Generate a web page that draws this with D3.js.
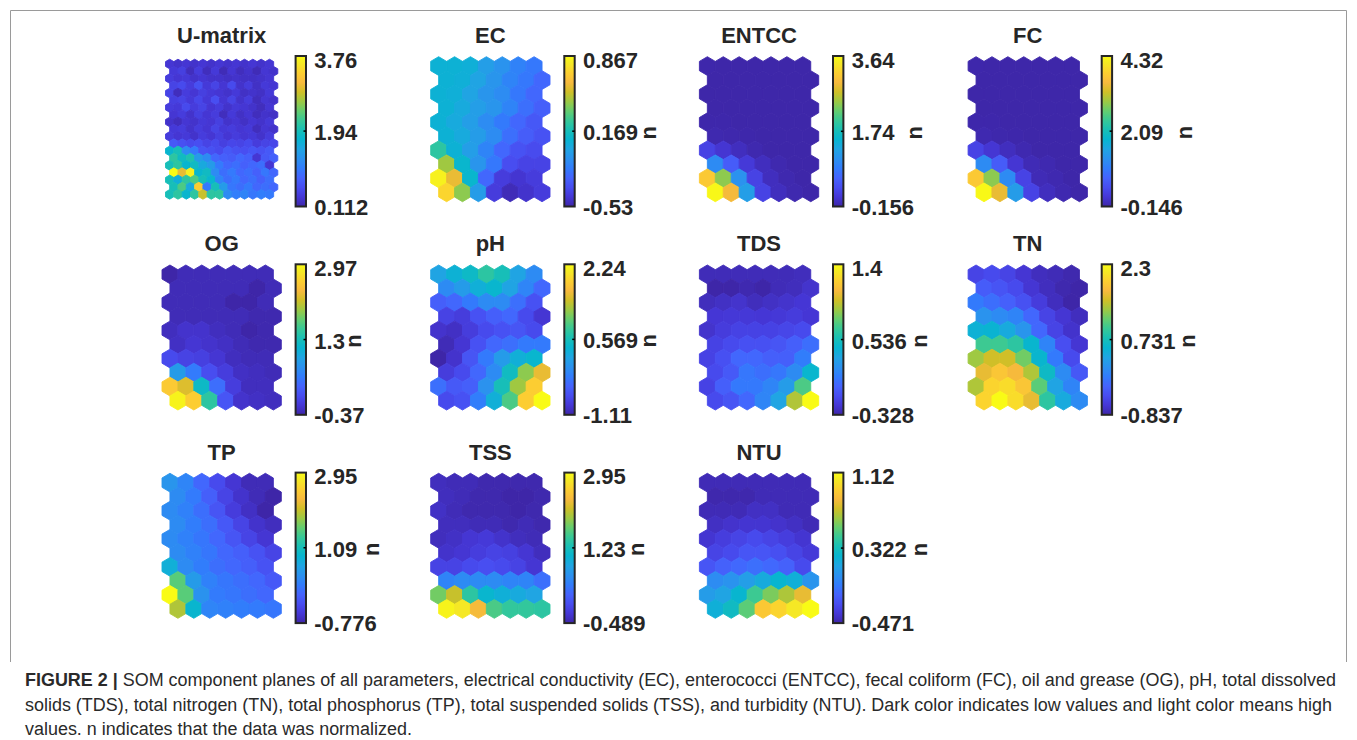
<!DOCTYPE html>
<html><head><meta charset="utf-8">
<script src="https://cdn.jsdelivr.net/npm/d3@7"></script>
<style>body{margin:0;background:#fff}svg{display:block}</style>
</head><body>
<svg id="c" width="1357" height="740"></svg>
<script>
// ---------------- DATA ----------------
const panelNames = ["U-matrix","EC","ENTCC","FC","OG","pH","TDS","TN","TP","TSS","NTU"];
const cbarMax = [3.76, 0.867, 3.64, 4.32, 2.97, 2.24, 1.4, 2.3, 2.95, 2.95, 1.12];
const cbarMid = [1.94, 0.169, 1.74, 2.09, 1.3, 0.569, 0.536, 0.731, 1.09, 1.23, 0.322];
const cbarMin = [0.112, -0.53, -0.156, -0.146, -0.37, -1.11, -0.328, -0.837, -0.776, -0.489, -0.471];
const normLabel = [false, true, true, true, true, true, true, true, true, true, true];

const umatrix = [
 [0.33,0.29,0.33,0.29,0.33,0.29,0.33,0.29,0.33,0.29,0.33,0.29,0.33],
 [0.37,0.44,0.22,0.40,0.22,0.37,0.19,0.33,0.22,0.29,0.19,0.33,0.29],
 [0.40,0.33,0.37,0.29,0.33,0.29,0.29,0.26,0.29,0.26,0.26,0.29,0.33],
 [0.48,0.55,0.40,0.62,0.37,0.48,0.33,0.55,0.29,0.40,0.26,0.37,0.33],
 [0.48,0.22,0.40,0.33,0.44,0.37,0.33,0.29,0.37,0.26,0.29,0.26,0.37],
 [0.44,0.48,0.37,0.51,0.37,0.59,0.33,0.48,0.29,0.40,0.22,0.33,0.29],
 [0.40,0.37,0.55,0.40,0.48,0.33,0.40,0.29,0.37,0.33,0.29,0.22,0.33],
 [0.33,0.40,0.29,0.44,0.33,0.40,0.22,0.37,0.26,0.33,0.22,0.29,0.26],
 [0.29,0.22,0.33,0.29,0.37,0.33,0.44,0.29,0.33,0.26,0.33,0.29,0.37],
 [0.37,0.40,0.29,0.40,0.33,0.48,0.37,0.40,0.33,0.37,0.22,0.33,0.29],
 [0.40,0.33,0.37,0.29,0.40,0.33,0.44,0.33,0.40,0.33,0.37,0.29,0.40],
 [0.70,0.62,0.55,0.59,0.48,0.55,0.44,0.51,0.48,0.55,0.40,0.48,0.51],
 [1.75,1.94,1.21,1.02,0.66,0.62,0.55,0.70,0.62,0.59,0.66,0.62,0.70],
 [2.12,1.86,2.01,1.39,1.21,0.84,0.77,0.73,0.84,0.77,0.33,0.70,0.77],
 [1.94,2.12,1.75,1.86,1.57,1.39,1.02,0.84,0.91,0.77,0.84,0.91,0.33],
 [3.76,3.03,3.65,1.75,1.86,1.21,0.91,1.02,0.84,0.91,0.77,0.99,0.84],
 [1.94,1.64,2.12,2.30,1.94,1.75,1.13,0.91,1.02,0.84,0.91,0.77,0.91],
 [1.94,2.30,1.57,3.32,1.02,1.94,1.39,0.99,0.91,1.02,0.84,0.91,0.84],
 [1.94,2.12,1.75,2.12,2.85,2.12,2.12,1.21,1.06,1.13,0.99,1.06,1.02]
];
const ec = [
 [0.07,0.07,0.06,-0.03,-0.08,-0.15,-0.19],
 [0.07,0.06,0.00,-0.07,-0.14,-0.19,-0.25],
 [0.07,0.06,0.00,-0.07,-0.11,-0.19,-0.25],
 [0.07,0.03,-0.03,-0.07,-0.14,-0.22,-0.28],
 [0.07,0.03,-0.03,-0.11,-0.18,-0.25,-0.31],
 [0.07,0.03,-0.04,-0.11,-0.22,-0.29,-0.33],
 [0.24,0.07,-0.03,-0.14,-0.25,-0.33,-0.36],
 [0.45,0.10,-0.07,-0.19,-0.35,-0.39,-0.39],
 [0.83,0.59,0.10,-0.25,-0.42,-0.45,-0.42],
 [0.73,0.42,-0.04,-0.42,-0.50,-0.46,-0.42]
];
const entcc = [
 [-0.14,-0.15,-0.15,-0.15,-0.15,-0.15,-0.15],
 [-0.15,-0.15,-0.15,-0.15,-0.15,-0.15,-0.15],
 [-0.15,-0.15,-0.15,-0.15,-0.15,-0.15,-0.15],
 [-0.15,-0.15,-0.15,-0.15,-0.15,-0.15,-0.15],
 [-0.14,-0.14,-0.15,-0.15,-0.15,-0.15,-0.15],
 [-0.12,-0.13,-0.14,-0.15,-0.15,-0.15,-0.15],
 [0.22,0.07,-0.04,-0.12,-0.15,-0.15,-0.15],
 [0.98,0.49,0.11,-0.04,-0.12,-0.15,-0.15],
 [3.15,2.43,1.06,0.22,-0.04,-0.12,-0.15],
 [3.60,2.96,1.21,0.22,-0.04,-0.12,-0.15]
];
const fc = [
 [-0.13,-0.14,-0.14,-0.14,-0.14,-0.14,-0.14],
 [-0.14,-0.14,-0.14,-0.14,-0.14,-0.14,-0.14],
 [-0.14,-0.14,-0.14,-0.14,-0.14,-0.14,-0.14],
 [-0.14,-0.14,-0.14,-0.14,-0.14,-0.14,-0.14],
 [-0.13,-0.13,-0.14,-0.14,-0.14,-0.14,-0.14],
 [-0.10,-0.12,-0.13,-0.14,-0.14,-0.14,-0.14],
 [0.30,0.12,-0.01,-0.10,-0.14,-0.14,-0.14],
 [1.19,0.61,0.12,-0.06,-0.10,-0.14,-0.14],
 [3.74,2.89,1.19,0.30,-0.06,-0.10,-0.14],
 [4.28,3.43,1.42,0.30,-0.01,-0.10,-0.14]
];
const og = [
 [-0.37,-0.30,-0.30,-0.30,-0.30,-0.30,-0.30],
 [-0.30,-0.30,-0.30,-0.30,-0.30,-0.37,-0.30],
 [-0.30,-0.30,-0.30,-0.30,-0.37,-0.37,-0.30],
 [-0.30,-0.30,-0.30,-0.30,-0.30,-0.34,-0.34],
 [-0.27,-0.20,-0.20,-0.27,-0.30,-0.37,-0.34],
 [-0.24,-0.17,-0.20,-0.24,-0.30,-0.34,-0.34],
 [0.03,-0.04,-0.07,-0.17,-0.27,-0.30,-0.30],
 [0.80,0.47,0.06,-0.10,-0.24,-0.27,-0.30],
 [2.54,2.24,1.20,0.36,-0.10,-0.27,-0.27],
 [2.90,2.57,1.47,0.13,-0.20,-0.24,-0.27]
];
const ph = [
 [0.16,0.33,0.46,0.73,0.57,0.16,-0.11],
 [-0.11,0.06,0.30,0.40,0.16,-0.17,-0.44],
 [-0.51,-0.44,-0.27,-0.11,-0.11,-0.37,-0.64],
 [-0.78,-0.84,-0.64,-0.51,-0.44,-0.71,-0.91],
 [-0.94,-0.98,-0.84,-0.71,-0.64,-0.61,-0.71],
 [-1.04,-0.91,-0.64,-0.44,-0.37,-0.27,-0.27],
 [-1.11,-0.94,-0.61,-0.27,0.06,0.30,0.40],
 [-0.84,-0.71,-0.44,-0.11,0.50,1.17,1.57],
 [-0.37,-0.57,-0.51,-0.04,0.57,1.24,1.84],
 [-0.71,-0.64,-0.24,0.30,0.90,1.84,2.24]
];
const tds = [
 [-0.29,-0.29,-0.29,-0.29,-0.29,-0.29,-0.28],
 [-0.33,-0.33,-0.31,-0.33,-0.29,-0.28,-0.24],
 [-0.28,-0.26,-0.24,-0.28,-0.26,-0.24,-0.22],
 [-0.22,-0.21,-0.21,-0.22,-0.21,-0.19,-0.22],
 [-0.24,-0.19,-0.16,-0.16,-0.16,-0.14,-0.12],
 [-0.16,-0.12,-0.09,-0.09,-0.07,-0.02,0.05],
 [-0.16,-0.09,0.02,0.02,-0.02,-0.02,0.12],
 [-0.12,-0.05,0.09,0.05,0.09,0.19,0.45],
 [-0.16,-0.02,0.10,0.10,0.16,0.28,0.71],
 [-0.12,-0.07,0.02,0.16,0.33,0.92,1.40]
];
const tn = [
 [-0.52,-0.46,-0.52,-0.65,-0.74,-0.77,-0.81],
 [-0.30,-0.37,-0.46,-0.65,-0.74,-0.81,-0.84],
 [-0.05,-0.15,-0.27,-0.40,-0.59,-0.74,-0.84],
 [0.17,0.10,0.04,-0.21,-0.52,-0.65,-0.74],
 [0.51,0.54,0.42,0.20,-0.21,-0.52,-0.68],
 [0.98,0.98,0.89,0.57,0.04,-0.43,-0.65],
 [1.36,1.55,1.55,1.20,0.57,-0.05,-0.46],
 [1.67,1.86,1.74,1.42,0.64,0.10,-0.34],
 [1.42,1.99,2.05,1.86,1.11,0.35,0.04],
 [1.99,2.30,2.05,1.67,0.89,0.42,0.10]
];
const tp = [
 [0.45,0.27,-0.03,-0.33,-0.55,-0.70,-0.70],
 [0.34,0.16,-0.11,-0.40,-0.59,-0.70,-0.78],
 [0.34,0.23,0.04,-0.22,-0.48,-0.63,-0.78],
 [0.34,0.19,0.04,-0.18,-0.40,-0.59,-0.66],
 [0.34,0.23,0.12,-0.03,-0.22,-0.40,-0.55],
 [0.34,0.23,0.12,-0.03,-0.11,-0.25,-0.40],
 [0.79,0.34,0.19,0.04,-0.03,-0.11,-0.25],
 [1.53,0.53,0.23,0.12,0.04,-0.03,-0.18],
 [2.95,1.53,0.42,0.16,0.12,0.04,-0.03],
 [1.91,0.90,0.27,0.23,0.19,0.16,0.12]
];
const tss = [
 [-0.39,-0.42,-0.42,-0.46,-0.46,-0.46,-0.46],
 [-0.39,-0.42,-0.46,-0.46,-0.49,-0.49,-0.46],
 [-0.35,-0.42,-0.46,-0.46,-0.46,-0.49,-0.46],
 [-0.39,-0.39,-0.42,-0.42,-0.46,-0.42,-0.46],
 [-0.39,-0.35,-0.28,-0.25,-0.32,-0.39,-0.42],
 [-0.32,-0.28,-0.21,-0.15,-0.18,-0.28,-0.39],
 [-0.15,-0.15,-0.08,-0.04,-0.08,-0.15,-0.28],
 [0.47,0.54,0.54,0.54,0.47,0.47,0.27],
 [1.75,2.09,1.40,1.06,0.96,0.89,0.82],
 [2.88,2.78,2.33,1.57,1.44,1.44,1.40]
];
const ntu = [
 [-0.44,-0.44,-0.44,-0.44,-0.44,-0.44,-0.44],
 [-0.46,-0.46,-0.46,-0.44,-0.44,-0.44,-0.44],
 [-0.44,-0.44,-0.44,-0.41,-0.41,-0.44,-0.44],
 [-0.41,-0.39,-0.38,-0.38,-0.39,-0.41,-0.44],
 [-0.38,-0.34,-0.31,-0.28,-0.31,-0.34,-0.38],
 [-0.31,-0.28,-0.23,-0.23,-0.26,-0.31,-0.36],
 [-0.23,-0.18,-0.15,-0.12,-0.15,-0.18,-0.28],
 [0.01,0.04,0.10,0.17,0.24,0.20,0.05],
 [0.09,0.13,0.24,0.45,0.58,0.67,0.80],
 [0.20,0.29,0.52,0.91,0.96,1.04,1.12]
];
const grids = [umatrix, ec, entcc, fc, og, ph, tds, tn, tp, tss, ntu];

const captionLines = [
 [["FIGURE 2 | ", true], ["SOM component planes of all parameters, electrical conductivity (EC), enterococci (ENTCC), fecal coliform (FC), oil and grease (OG), pH, total dissolved", false]],
 [["solids (TDS), total nitrogen (TN), total phosphorus (TP), total suspended solids (TSS), and turbidity (NTU). Dark color indicates low values and light color means high", false]],
 [["values. n indicates that the data was normalized.", false]]
];

// parula colormap (MATLAB)
const parulaRGB = [
 [0.2422,0.1504,0.6603],[0.2706,0.2147,0.8364],[0.2813,0.3006,0.9414],[0.2699,0.3892,0.9906],
 [0.1963,0.4847,0.9892],[0.1687,0.5703,0.9359],[0.1248,0.6459,0.8883],[0.0297,0.7082,0.8163],
 [0.0964,0.7500,0.7120],[0.2161,0.7843,0.5923],[0.3909,0.8029,0.4354],[0.6174,0.7876,0.2612],
 [0.8203,0.7498,0.1535],[0.9728,0.7298,0.2394],[0.9892,0.8136,0.1885],[0.9597,0.9135,0.1423],
 [0.9769,0.9839,0.0805]
];
const parulaIdx = [0,4,8,12,16,20,24,28,32,36,40,44,48,52,56,60,63];

// ---------------- LAYOUT / STYLE ----------------
const L = {
  colX0: 162, colStep: 268.7, rowY0: 56.7, rowStep: 208.3,
  areaW: 119.3, areaH: 145, uW: 112.3, uH: 140,
  cbDx: 133.6, cbW: 10.4, cbTopDy: -0.7, cbH: 150.5,
  labDx: 152.3, titleDy: -13.7,
  nDx: [0, 73, 70, 71, 46, 73, 75, 74, 64, 61, 75]
};
const ink = "#262626";

const svg = d3.select("#c");
const parula = d3.scaleLinear()
  .domain(parulaIdx.map(i => i / 63))
  .range(parulaRGB.map(c => d3.rgb(c[0]*255, c[1]*255, c[2]*255)))
  .interpolate(d3.interpolateRgb).clamp(true);

const defs = svg.append("defs");
const grad = defs.append("linearGradient").attr("id","parula")
  .attr("x1",0).attr("y1",1).attr("x2",0).attr("y2",0);
d3.range(0, 1.0001, 1/63).forEach(t => grad.append("stop").attr("offset", t).attr("stop-color", parula(t)));

// frame (top, left, right edges)
svg.append("path").attr("d","M10.5,662V10.5H1346.5V662")
  .attr("fill","none").attr("stroke","#9a9a9a").attr("stroke-width",1);

function hexPath(cx, cy, hw, r) {
  return `M${cx},${cy-r}L${cx+hw},${cy-r/2}L${cx+hw},${cy+r/2}L${cx},${cy+r}L${cx-hw},${cy+r/2}L${cx-hw},${cy-r/2}Z`;
}

panelNames.forEach((name, k) => {
  const pr = Math.floor(k / 4), pc = k % 4;
  const left = L.colX0 + L.colStep * pc, top = L.rowY0 + L.rowStep * pr;
  const grid = grids[k], nr = grid.length, nc = grid[0].length;
  const W = k === 0 ? L.uW : L.areaW, H = k === 0 ? L.uH : L.areaH;
  const ax = left + (L.areaW - W) / 2, ay = top + (L.areaH - H) / 2;
  const w = W / (nc + 0.5), s = H / (nr - 1 + 4/3), r = s / 1.5;
  const x = d3.scaleLinear().domain([0, nc - 0.5]).range([ax + w/2, ax + W - w/2]);
  const y = d3.scaleLinear().domain([0, nr - 1]).range([ay + r, ay + H - r]);
  const color = d3.scaleSequential(parula).domain([cbarMin[k], cbarMax[k]]);

  const g = svg.append("g");
  const cells = [];
  grid.forEach((row, ri) => row.forEach((v, ci) => cells.push({ri, ci, v})));
  g.selectAll("path").data(cells).join("path")
    .attr("d", d => hexPath(x(d.ci + (d.ri % 2) * 0.5), y(d.ri), w/2, r))
    .attr("fill", d => color(d.v))
    .attr("stroke", d => color(d.v)).attr("stroke-width", 0.9).attr("stroke-linejoin","round");

  // title
  svg.append("text").attr("x", left + L.areaW/2).attr("y", L.rowY0 + L.rowStep*pr + L.titleDy)
    .attr("text-anchor","middle").attr("font-family","Liberation Sans, Arial, sans-serif")
    .attr("font-weight","bold").attr("font-size",22).attr("fill",ink).text(name);

  // colorbar
  const cbx = left + L.cbDx, cby = top + L.cbTopDy;
  const cbScale = d3.scaleLinear().domain([cbarMin[k], cbarMax[k]]).range([cby + L.cbH, cby]);
  svg.append("rect").attr("x", cbx).attr("y", cby).attr("width", L.cbW).attr("height", L.cbH)
    .attr("fill","url(#parula)").attr("stroke", ink).attr("stroke-width", 2);
  svg.append("line").attr("x1", cbx + L.cbW - 2.5).attr("x2", cbx + L.cbW)
    .attr("y1", cbScale(cbarMid[k])).attr("y2", cbScale(cbarMid[k]))
    .attr("stroke", "#000").attr("stroke-width", 1.5);

  const ticks = [[cbarMax[k], 4], [cbarMid[k], 1.5], [cbarMin[k], 0.5]];
  ticks.forEach(([v, dy]) => {
    svg.append("text").attr("x", left + L.labDx).attr("y", cbScale(v) + dy)
      .attr("dominant-baseline","central")
      .attr("font-family","Liberation Sans, Arial, sans-serif").attr("font-weight","bold")
      .attr("font-size",22).attr("fill",ink).text(String(v));
  });
  if (normLabel[k]) {
    const nx = cbx + L.cbW + 1 + L.nDx[k], ny = cbScale(cbarMid[k]) + 1.5;
    svg.append("text").attr("transform", `translate(${nx},${ny}) rotate(-90)`)
      .attr("text-anchor","middle").attr("dominant-baseline","central")
      .attr("font-family","Liberation Sans, Arial, sans-serif").attr("font-weight","bold")
      .attr("font-size",22).attr("fill",ink).text("n");
  }
});

// caption
const capG = svg.append("g");
const capBase = [686, 711, 735];
const capTexts = captionLines.map((segs, i) => {
  const t = capG.append("text").attr("x", 25).attr("y", capBase[i])
    .attr("font-family","Liberation Sans, Arial, sans-serif").attr("font-size",16).attr("fill","#2a2a2a");
  segs.forEach(([str, bold]) => t.append("tspan").attr("font-weight", bold ? "bold" : "normal").text(str));
  return t;
});
const w0 = capTexts[0].node().getComputedTextLength();
const fs = 16 * 1312 / w0;
capTexts.forEach(t => t.attr("font-size", fs));
</script>
</body></html>
